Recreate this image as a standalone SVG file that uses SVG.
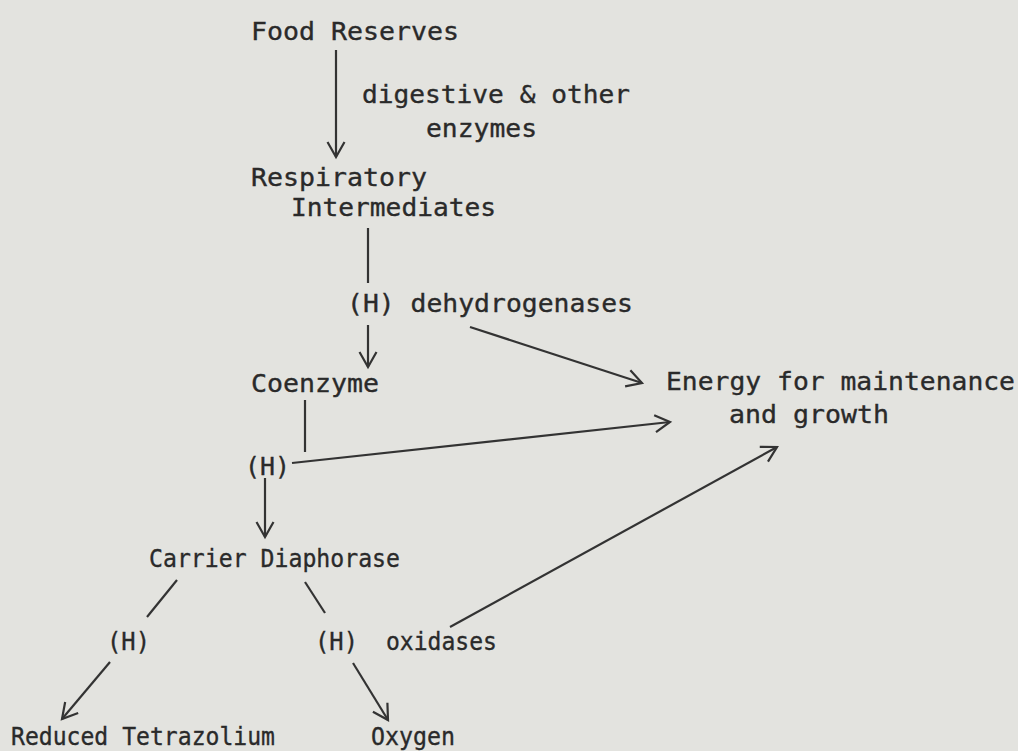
<svg xmlns="http://www.w3.org/2000/svg" width="1018" height="751" viewBox="0 0 1018 751">
<style>
text{font-family:"DejaVu Sans Mono","Liberation Mono",monospace;font-size:25.5px;fill:#2a2a2a;stroke:#2a2a2a;stroke-width:0.35}
.c line{stroke:#333;stroke-width:2.2;fill:none}
</style>
<defs>
<marker id="ah" markerUnits="userSpaceOnUse" markerWidth="30" markerHeight="30" viewBox="-20 -15 30 30" refX="0" refY="0" orient="auto">
<path d="M-15,-8.5 L0,0 L-15,8.5" fill="none" stroke="#333" stroke-width="2.2" stroke-linejoin="miter"/>
</marker>
</defs>
<rect width="1018" height="751" fill="#e3e3df"/>
<g id="food"><text x="251" y="40" textLength="208" lengthAdjust="spacingAndGlyphs">Food Reserves</text></g>
<g id="enz"><text x="362" y="103" textLength="268" lengthAdjust="spacingAndGlyphs">digestive &amp; other</text><text x="426" y="137" textLength="111" lengthAdjust="spacingAndGlyphs">enzymes</text></g>
<g id="resp"><text x="251" y="186" textLength="176" lengthAdjust="spacingAndGlyphs">Respiratory</text><text x="291" y="216" textLength="205" lengthAdjust="spacingAndGlyphs">Intermediates</text></g>
<g id="dehyd"><text x="347" y="312" textLength="286" lengthAdjust="spacingAndGlyphs">(H) dehydrogenases</text></g>
<g id="coenz"><text x="251" y="392" textLength="128" lengthAdjust="spacingAndGlyphs">Coenzyme</text></g>
<g id="energy"><text x="666" y="390" textLength="349" lengthAdjust="spacingAndGlyphs">Energy for maintenance</text><text x="729" y="423" textLength="160" lengthAdjust="spacingAndGlyphs">and growth</text></g>
<g id="h1"><text x="245" y="475" textLength="45" lengthAdjust="spacingAndGlyphs">(H)</text></g>
<g id="carrier"><text x="149" y="567" textLength="251" lengthAdjust="spacingAndGlyphs">Carrier Diaphorase</text></g>
<g id="h2"><text x="107" y="650" textLength="43" lengthAdjust="spacingAndGlyphs">(H)</text></g>
<g id="h3"><text x="315" y="650" textLength="43" lengthAdjust="spacingAndGlyphs">(H)</text></g>
<g id="oxid"><text x="386" y="650" textLength="111" lengthAdjust="spacingAndGlyphs">oxidases</text></g>
<g id="red"><text x="11" y="745" textLength="264" lengthAdjust="spacingAndGlyphs">Reduced Tetrazolium</text></g>
<g id="oxy"><text x="371" y="745" textLength="84" lengthAdjust="spacingAndGlyphs">Oxygen</text></g>
<g class="c" id="connectors">
<line x1="336" y1="50" x2="336" y2="157" marker-end="url(#ah)"/>
<line x1="368" y1="228" x2="368" y2="283"/>
<line x1="368" y1="325" x2="368" y2="367" marker-end="url(#ah)"/>
<line x1="470" y1="327" x2="642" y2="383" marker-end="url(#ah)"/>
<line x1="305" y1="400" x2="305" y2="452"/>
<line x1="292" y1="463" x2="670" y2="422" marker-end="url(#ah)"/>
<line x1="265" y1="478" x2="265" y2="537" marker-end="url(#ah)"/>
<line x1="177" y1="580" x2="147" y2="617"/>
<line x1="305" y1="582" x2="325" y2="613"/>
<line x1="110" y1="662" x2="62" y2="719" marker-end="url(#ah)"/>
<line x1="353" y1="663" x2="388" y2="720" marker-end="url(#ah)"/>
<line x1="450" y1="627" x2="777" y2="447" marker-end="url(#ah)"/>
</g>
</svg>
